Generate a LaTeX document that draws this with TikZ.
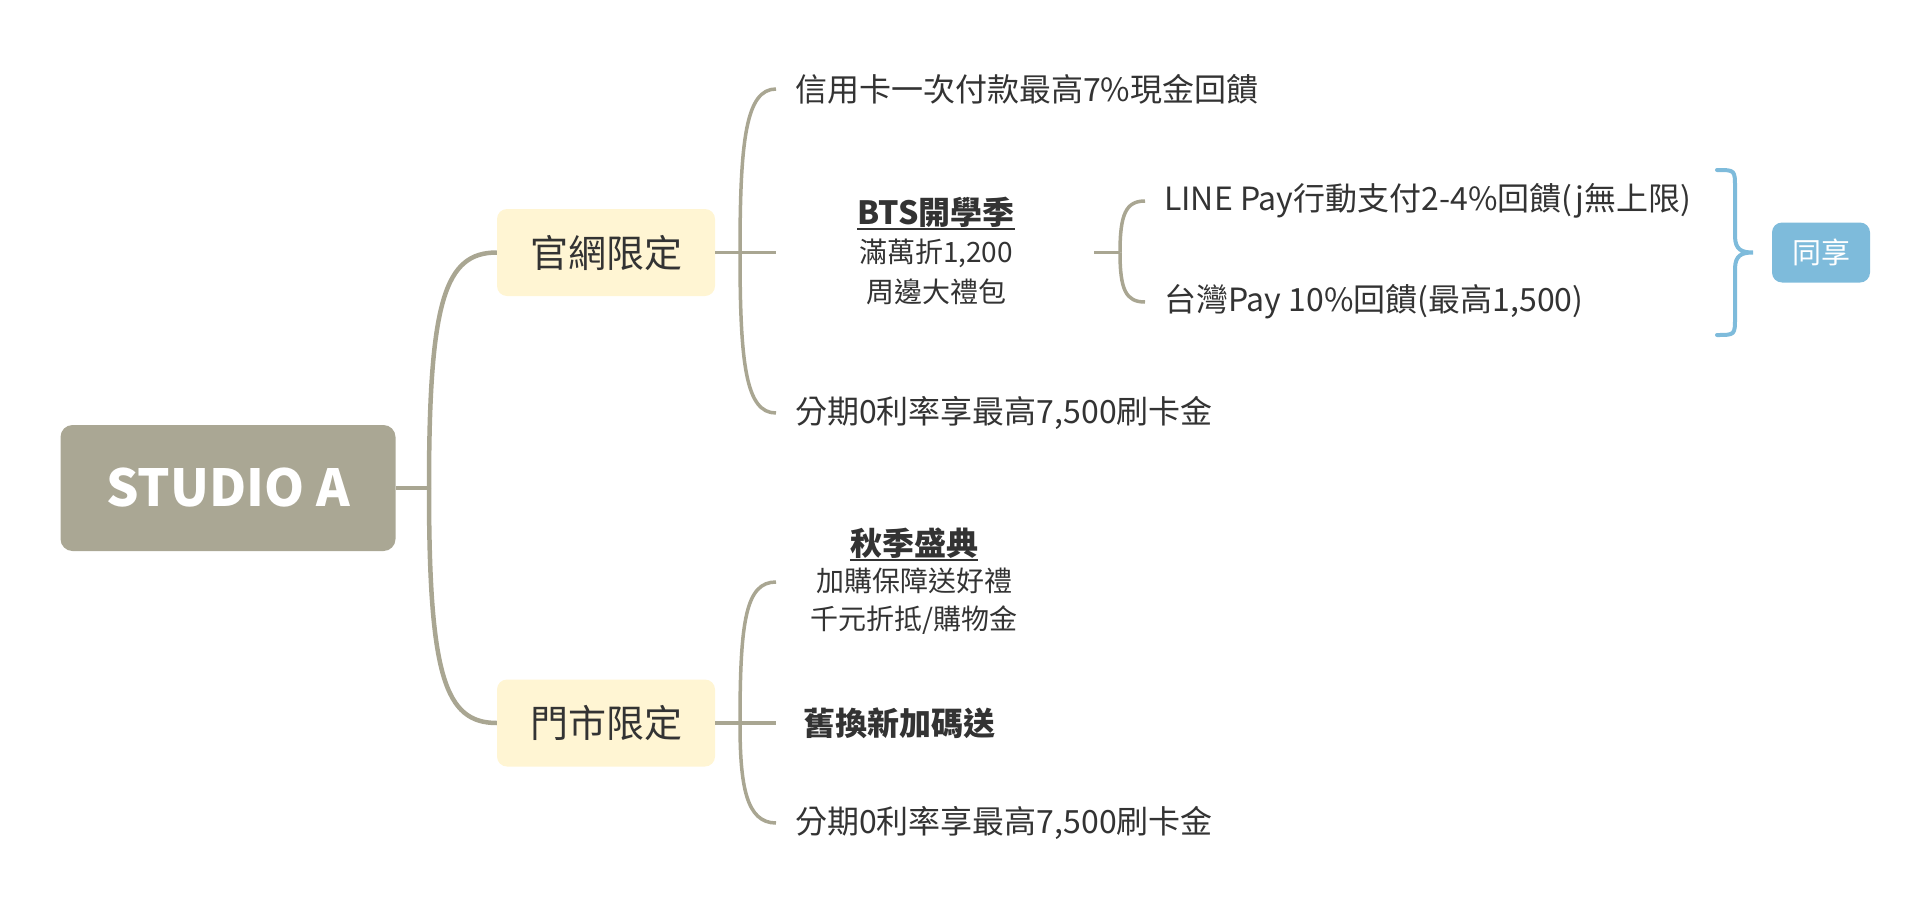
\documentclass[tikz,border=0pt]{standalone}
\usepackage{fontspec}
\setmainfont{Noto Sans CJK TC}
\definecolor{lineC}{HTML}{A9A692}
\definecolor{rootC}{HTML}{AAA794}
\definecolor{catC}{HTML}{FFF5D3}
\definecolor{txtC}{HTML}{333333}
\definecolor{blueC}{HTML}{7EBBDB}
\begin{document}
\begin{tikzpicture}[x=1pt,y=-1pt,
  rootbox/.style={rectangle, rounded corners=12pt, fill=rootC, text=white, font=\fontsize{51}{56}\selectfont\bfseries, minimum width=335pt, minimum height=126pt, inner sep=0pt},
  catbox/.style={rectangle, rounded corners=10pt, fill=catC, text=txtC, font=\fontsize{38}{44}\selectfont, minimum width=218pt, minimum height=87pt, inner sep=0pt},
  leaf/.style={anchor=west, inner sep=0pt, text=txtC, font=\fontsize{32}{38}\selectfont},
  boldleaf/.style={anchor=west, inner sep=0pt, text=txtC, font=\fontsize{32}{38}\selectfont\bfseries},
  ttl/.style={inner sep=0pt, text=txtC, font=\fontsize{32}{38}\selectfont\bfseries},
  subA/.style={inner sep=0pt, text=txtC, align=center, font=\fontsize{28}{40}\selectfont},
  subB/.style={inner sep=0pt, text=txtC, align=center, font=\fontsize{28}{38}\selectfont},
  conn/.style={draw=lineC, line width=4.5pt},
  conn2/.style={draw=lineC, line width=3.5pt},
  uline/.style={draw=txtC, line width=2pt},
  bracestyle/.style={draw=blueC, line width=4pt, line cap=round},
  tagbox/.style={rectangle, rounded corners=10pt, fill=blueC, text=white, font=\fontsize{29}{34}\selectfont, minimum width=98pt, minimum height=60pt, inner sep=0pt}]
\useasboundingbox (0,0) rectangle (1932,918);

% nodes
\node[rootbox] (root) at (228,488) {STUDIO A};
\node[catbox] (gw) at (606,252.5) {官網限定};
\node[catbox] (ms) at (606,723) {門市限定};

\node[leaf] (t1) at (795,89) {信用卡一次付款最高7\%現金回饋};
\node[ttl] (btsT) at (936,212) {BTS開學季};
\node[subA] (btsS) at (936,272) {滿萬折1,200\\周邊大禮包};
\node[leaf] (t3) at (795,413) {分期0利率享最高7,500刷卡金};

\node[leaf] (lp) at (1164,201) {LINE Pay行動支付2-4\%回饋(j無上限)};
\node[leaf] (tw) at (1164,302) {台灣Pay 10\%回饋(最高1,500)};
\node[tagbox] (sh) at (1821,252.5) {同享};

\node[ttl] (qjT) at (914,543) {秋季盛典};
\node[subB] (qjS) at (914,601) {加購保障送好禮\\千元折抵/購物金};
\node[boldleaf] (jh) at (803,723) {舊換新加碼送};
\node[leaf] (t6) at (795,823) {分期0利率享最高7,500刷卡金};

% underlines
\draw[uline] ([yshift=-4.5pt]btsT.base west) -- ([yshift=-4.5pt]btsT.base east);
\draw[uline] ([yshift=-4.5pt]qjT.base west) -- ([yshift=-4.5pt]qjT.base east);

% coordinates
\coordinate (j0) at (429,488);
\coordinate (j1) at (740,252.5);
\coordinate (btsL) at (776,252.5);
\coordinate (btsR) at (1094,252.5);
\coordinate (j2) at (1120,252.5);
\coordinate (j3) at (740,723);

% root connectors
\draw[conn] (root.east) -- (j0);
\draw[conn] (j0) .. controls (429,300) and (445,252.5) .. (gw.west);
\draw[conn] (j0) .. controls (429,676) and (445,723) .. (ms.west);

% 官網限定 connectors
\draw[conn2] (gw.east) -- (btsL);
\draw[conn2] (j1) .. controls (740,140) and (746,89) .. ([xshift=-19pt]t1.west);
\draw[conn2] (j1) .. controls (740,365) and (746,413) .. ([xshift=-19pt]t3.west);

% BTS connectors
\draw[conn2] (btsR) -- (j2);
\draw[conn2] (j2) .. controls (1120,214) and (1126,201) .. ([xshift=-19pt]lp.west);
\draw[conn2] (j2) .. controls (1120,290) and (1126,302) .. ([xshift=-19pt]tw.west);

% 門市限定 connectors
\draw[conn2] (ms.east) -- ([xshift=-27pt]jh.west);
\draw[conn2] (j3) .. controls (740,620) and (746,582) .. (776,582) coordinate (qjL);
\draw[conn2] (j3) .. controls (740,785) and (746,823) .. ([xshift=-19pt]t6.west);

% summary brace
\coordinate (bt) at (1717,170);
\coordinate (bb) at (1717,335);
\coordinate (btip) at (1753,252.5);
\draw[bracestyle] (bt) .. controls (1735,170) .. (1735,188) -- (1735,236)
  .. controls (1735,250) and (1742,252.5) .. (btip)
  .. controls (1742,252.5) and (1735,255) .. (1735,269) -- (1735,317)
  .. controls (1735,335) .. (bb);
\end{tikzpicture}
\end{document}
